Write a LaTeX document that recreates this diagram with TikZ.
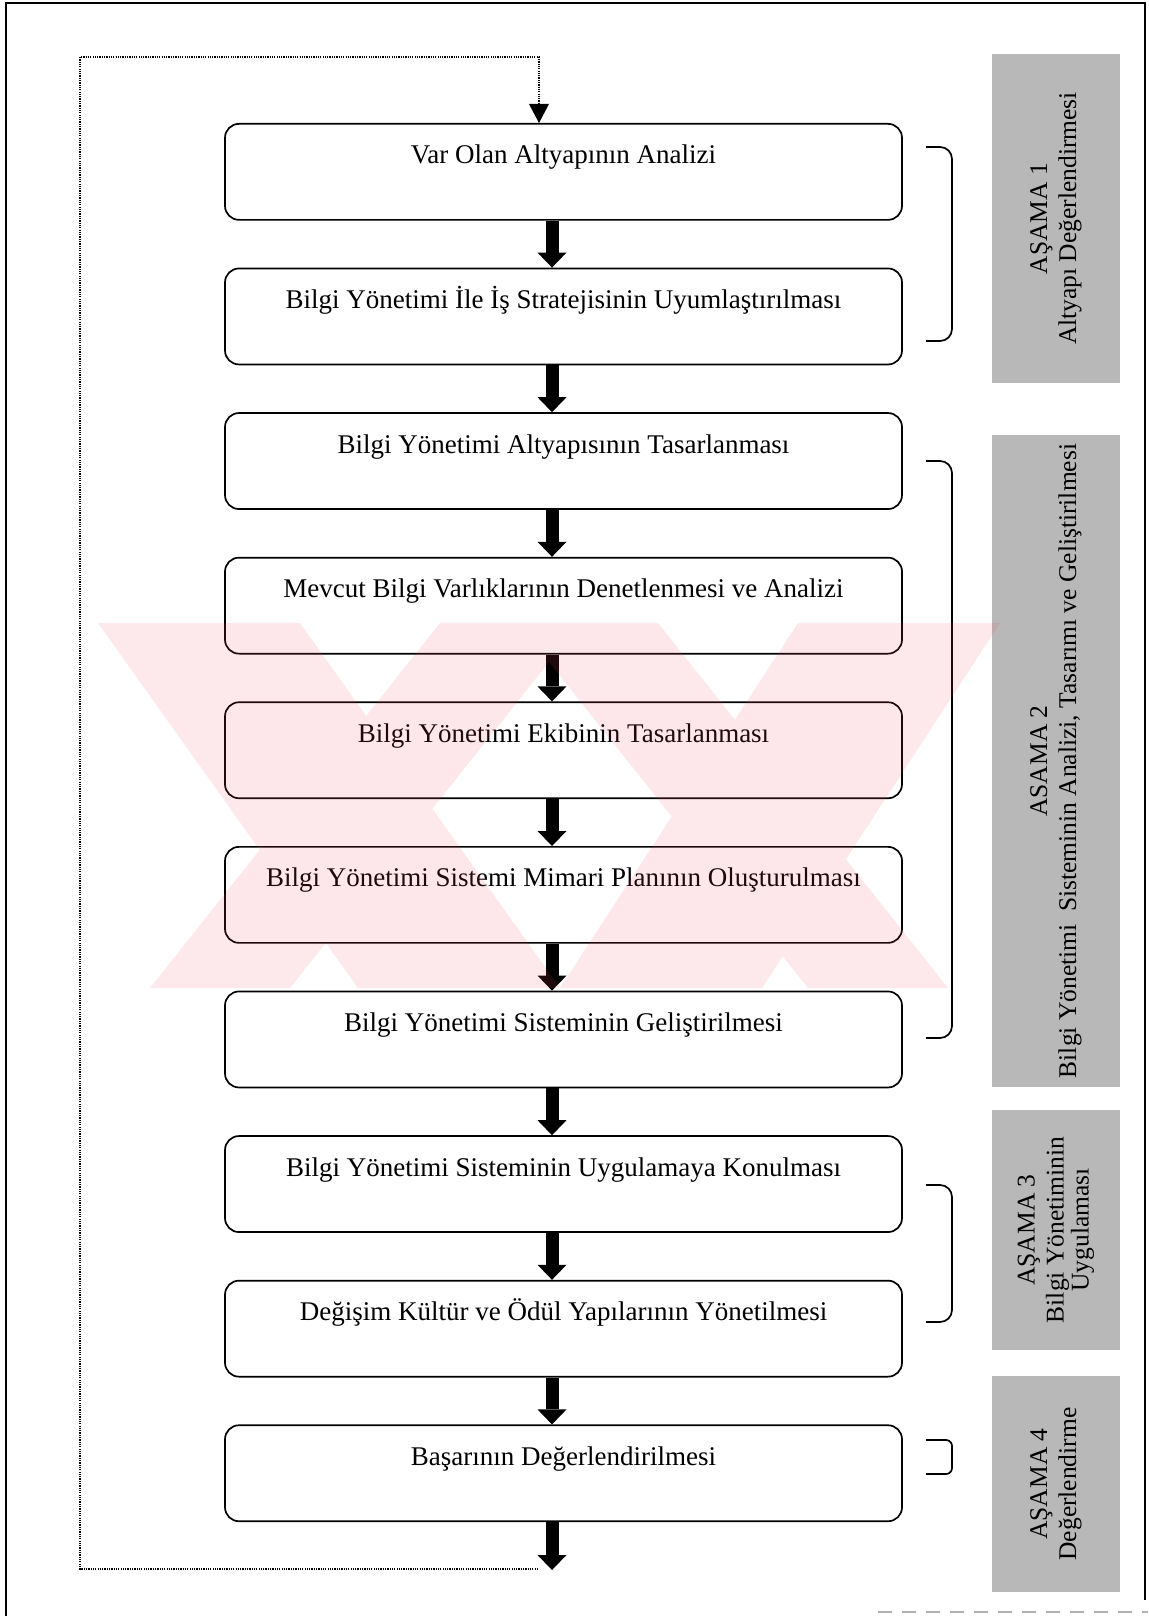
\documentclass[tikz,border=0pt]{standalone}
\usepackage{fontspec}
\setmainfont{Liberation Serif}
\usetikzlibrary{arrows.meta}

\definecolor{labelgray}{RGB}{184,184,184}
\definecolor{wmpink}{RGB}{240,75,100}

\begin{document}
\begin{tikzpicture}[x=1pt,y=-1pt,
  stepbox/.style={draw, line width=1.7pt, rounded corners=14pt, fill=white,
    minimum width=677pt, inner xsep=0pt, inner ysep=0pt,
    text height=40pt, text depth=56pt, anchor=north,
    font=\fontsize{27}{31}\selectfont},
  flow/.style={line width=13pt,
    -{Triangle[length=15pt,width=29pt,line width=0pt]}},
  feedback/.style={line width=1.5pt, dash pattern=on 1.2pt off 1.1pt,
    -{Triangle[length=19pt,width=20pt,line width=0pt]}},
  brace/.style={line width=1.7pt, rounded corners=12pt},
  phase/.style={fill=labelgray, rotate=90, align=center, inner sep=0pt,
    minimum height=128pt, font=\fontsize{25.5}{29}\selectfont},
]
% page area
\useasboundingbox (0,0) rectangle (1148,1616);

% outer frame
\draw[line width=1.7pt] (6,1616) -- (6,3) -- (1145,3) -- (1145,1600);
\draw[gray!60, line width=1.2pt, dash pattern=on 14pt off 10pt] (878,1612) -- (1148,1612);

% process steps
\foreach \i/\txt in {
  1/Var Olan Altyapının Analizi,
  2/Bilgi Yönetimi İle İş Stratejisinin Uyumlaştırılması,
  3/Bilgi Yönetimi Altyapısının Tasarlanması,
  4/Mevcut Bilgi Varlıklarının Denetlenmesi ve Analizi,
  5/Bilgi Yönetimi Ekibinin Tasarlanması,
  6/Bilgi Yönetimi Sistemi Mimari Planının Oluşturulması,
  7/Bilgi Yönetimi Sisteminin Geliştirilmesi,
  8/Bilgi Yönetimi Sisteminin Uygulamaya Konulması,
  9/Değişim Kültür ve Ödül Yapılarının Yönetilmesi,
  10/Başarının Değerlendirilmesi}
  \node[stepbox] (b\i) at (563.5, {123+144.6*(\i-1)}) {\txt};

% arrows between steps
\foreach \a/\b in {1/2,2/3,3/4,4/5,5/6,6/7,7/8,8/9,9/10}
  \draw[flow] ([xshift=-11.5pt]b\a.south) -- ([xshift=-11.5pt]b\b.north);

% exit arrow and feedback loop
\coordinate (exit) at (552,1570);
\draw[flow] ([xshift=-11.5pt]b10.south) -- (exit);
\coordinate (fbS) at (538,1569);
\coordinate (fbL) at (80,57);
\coordinate (fbT) at (539,57);
\draw[feedback] (fbS) -- (fbL |- fbS) -- (fbL) -- (fbT) -- ([xshift=-24.5pt]b1.north);

% phase brackets
\draw[brace] (926,147) -- (952,147) -- (952,341) -- (926,341);
\draw[brace] (926,461) -- (952,461) -- (952,1038) -- (926,1038);
\draw[brace] (926,1185) -- (952,1185) -- (952,1322) -- (926,1322);
\draw[brace, rounded corners=6pt] (926,1440) -- (952,1440) -- (952,1474) -- (926,1474);

% phase labels
\node[phase, minimum width=329pt] (p1) at (1056,218.5)
  {AŞAMA 1\\Altyapı Değerlendirmesi};
\node[phase, minimum width=652pt] (p2) at (1056,761)
  {ASAMA 2\\Bilgi Yönetimi\ \ Sisteminin Analizi, Tasarımı ve Geliştirilmesi};
\node[phase, minimum width=240pt] (p3) at (1056,1230)
  {AŞAMA 3\\Bilgi Yönetiminin\\[-4pt]Uygulaması};
\node[phase, minimum width=216pt] (p4) at (1056,1484)
  {AŞAMA 4\\Değerlendirme};

% faint overlay mark
\fill[wmpink, fill opacity=0.13, nonzero rule]
  (98,623) -- (300,623) -- (560,988) -- (358,988) -- cycle
  (798,623) -- (1000,623) -- (762,988) -- (560,988) -- cycle
  (440,623) -- (580,623) -- (290,988) -- (150,988) -- cycle
  (518,623) -- (658,623) -- (948,988) -- (808,988) -- cycle;
\end{tikzpicture}
\end{document}
